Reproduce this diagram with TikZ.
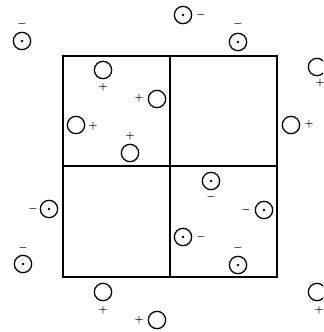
\documentclass[tikz,border=0pt]{standalone}
\usetikzlibrary{calc}
\begin{document}
\begin{tikzpicture}[x=0.03cm, y=-0.03cm]
%styles
\tikzstyle{charge}=[circle, draw, line width=1.1pt, minimum size=0.52cm, inner sep=0pt]
\tikzstyle{sign}=[rectangle, text=black, inner sep=0pt, font=\footnotesize\boldmath]
\tikzstyle{cell}=[line width=1.1pt]

\useasboundingbox (0,0) rectangle (323,332);
\clip (0,0) rectangle (323,332);

%square grid
\coordinate (tl) at (63,56);
\coordinate (br) at (277,277);
\coordinate (mid) at (170,166);
\draw[cell] (tl) rectangle (br);
\draw[cell] (tl -| mid) -- (br -| mid);
\draw[cell] (tl |- mid) -- (br |- mid);

%positive charges
\node[charge] (p1) at (103,70) {};
\node[charge] (p2) at (157,99) {};
\node[charge] (p3) at (76,125) {};
\node[charge] (p4) at (130,153) {};
\node[charge] (p5) at (291,125) {};
\node[charge] (p6) at (103,292) {};
\node[charge] (p7) at (157,320) {};
\node[charge] (p8) at (317,67) {};
\node[charge] (p9) at (317,292) {};

\node[sign] (sp1) at ($(p1)+(0,17)$) {$+$};
\node[sign] (sp2) at ($(p2)+(-18,-1)$) {$+$};
\node[sign] (sp3) at ($(p3)+(17,1)$) {$+$};
\node[sign] (sp4) at ($(p4)+(0,-17)$) {$+$};
\node[sign] (sp5) at ($(p5)+(18,-1)$) {$+$};
\node[sign] (sp6) at ($(p6)+(0,18)$) {$+$};
\node[sign] (sp7) at ($(p7)+(-18,0)$) {$+$};
\node[sign] (sp8) at ($(p8)+(3,16)$) {$+$};
\node[sign] (sp9) at ($(p9)+(2,18)$) {$+$};

%negative charges
\node[charge] (n1) at (22,41) {};
\node[charge] (n2) at (183,15) {};
\node[charge] (n3) at (238,42) {};
\node[charge] (n4) at (49,209) {};
\node[charge] (n5) at (23,264) {};
\node[charge] (n6) at (211,181) {};
\node[charge] (n7) at (264,210) {};
\node[charge] (n8) at (183,237) {};
\node[charge] (n9) at (238,265) {};
\foreach \n in {n1,n2,n3,n4,n5,n6,n7,n8,n9}
  \fill (\n) circle (1.1pt);

\node[sign] (sn1) at ($(n1)+(0,-17)$) {$-$};
\node[sign] (sn2) at ($(n2)+(18,0)$) {$-$};
\node[sign] (sn3) at ($(n3)+(0,-18)$) {$-$};
\node[sign] (sn4) at ($(n4)+(-16,0)$) {$-$};
\node[sign] (sn5) at ($(n5)+(0,-16)$) {$-$};
\node[sign] (sn6) at ($(n6)+(0,16)$) {$-$};
\node[sign] (sn7) at ($(n7)+(-18,0)$) {$-$};
\node[sign] (sn8) at ($(n8)+(18,0)$) {$-$};
\node[sign] (sn9) at ($(n9)+(0,-17)$) {$-$};
\end{tikzpicture}
\end{document}
